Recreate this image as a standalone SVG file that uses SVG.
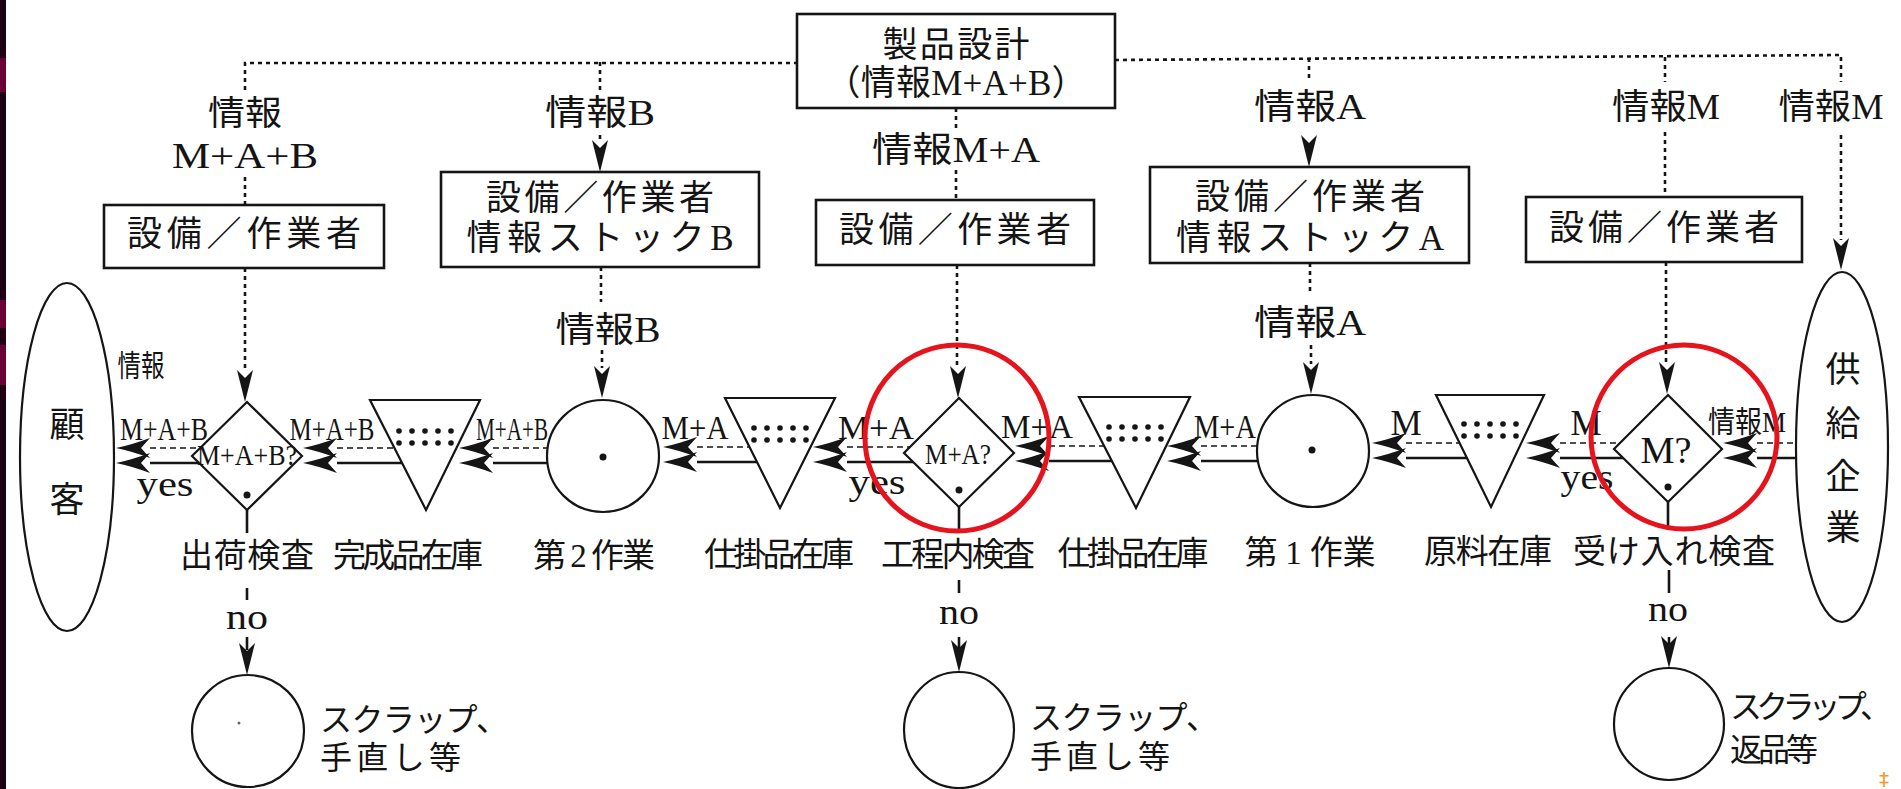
<svg xmlns="http://www.w3.org/2000/svg" xmlns:xlink="http://www.w3.org/1999/xlink" width="1901" height="789" viewBox="0 0 1901 789">
<style>
.t{font-family:"Liberation Serif","Noto Sans CJK JP",serif;fill:#141414;text-anchor:middle;dominant-baseline:central}
.ts{font-family:"Liberation Serif","Noto Sans CJK JP",serif;fill:#141414;dominant-baseline:central}
.box{fill:#fff;stroke:#151515;stroke-width:2.6}
.shp{fill:#fff;stroke:#151515;stroke-width:2.2}
.dl{stroke:#151515;stroke-width:2.6;stroke-dasharray:4 4;fill:none}
.da{stroke:#151515;stroke-width:1.6;stroke-dasharray:6 4;fill:none}
.so{stroke:#151515;stroke-width:2.6;fill:none}
.red{fill:none;stroke:#e5141c;stroke-width:5}
.ah{fill:#151515}
</style>
<defs>
<path id="ahl" class="ah" d="M0,0 Q15,-3 34,-10 L25,0 L34,10 Q15,3 0,0 Z"/>
<path id="ahd" class="ah" d="M0,0 L-8,-32 L0,-24 L8,-32 Z"/>
<g id="dots5">
<circle cx="0" cy="0" r="2.8"/><circle cx="13" cy="0" r="2.8"/><circle cx="26" cy="0" r="2.8"/><circle cx="39" cy="0" r="2.8"/><circle cx="52" cy="0" r="2.8"/>
<circle cx="0" cy="12" r="2.8"/><circle cx="13" cy="12" r="2.8"/><circle cx="26" cy="12" r="2.8"/><circle cx="39" cy="12" r="2.8"/><circle cx="52" cy="12" r="2.8"/>
</g>
</defs>
<rect x="0" y="0" width="1901" height="789" fill="#ffffff"/>
<g id="edge-strip">
<rect x="0" y="0" width="6" height="789" fill="#1e0010"/>
<rect x="0" y="58" width="6" height="34" fill="#6a0034"/>
<rect x="0" y="300" width="6" height="28" fill="#6a0034"/>
<rect x="0" y="345" width="6" height="40" fill="#6a0034"/>
</g>

<g id="connectors">
<path class="dl" d="M245,90 V63 H797"/>
<path class="dl" d="M1115,60 L1841,55 V82"/>
<path class="dl" d="M600,62 V90"/>
<path class="dl" d="M600,135 V142"/>
<path class="dl" d="M245,177 V205"/>
<path class="dl" d="M956,108 V128"/>
<path class="dl" d="M956,170 V200"/>
<path class="dl" d="M1309,58 V82"/>
<path class="dl" d="M1665,57 V82"/>
<path class="dl" d="M1665,132 V197"/>
<path class="dl" d="M1841,135 V240"/>
<use href="#ahd" x="600" y="172"/>
<use href="#ahd" x="1309" y="167"/>
<use href="#ahd" x="1841" y="270"/>
<path class="dl" d="M245,268 V372"/>
<use href="#ahd" x="245" y="402"/>
<path class="dl" d="M601,267 V302"/>
<path class="dl" d="M602,350 V368"/>
<use href="#ahd" x="602" y="398"/>
<path class="dl" d="M957,265 V368"/>
<use href="#ahd" x="958" y="398"/>
<path class="dl" d="M1310,263 V292"/>
<path class="dl" d="M1311,345 V364"/>
<use href="#ahd" x="1311" y="394"/>
<path class="dl" d="M1666,262 V364"/>
<use href="#ahd" x="1667" y="394"/>

<path class="da" d="M150,448 H200"/><path class="so" d="M150,463 H199"/>
<use href="#ahl" x="116" y="448"/><use href="#ahl" x="116" y="463"/>
<path class="da" d="M337,448 H394"/><path class="so" d="M337,463 H402"/>
<use href="#ahl" x="303" y="448"/><use href="#ahl" x="303" y="463"/>
<path class="da" d="M493,448 H548"/><path class="so" d="M493,463 H548"/>
<use href="#ahl" x="459" y="448"/><use href="#ahl" x="459" y="463"/>
<path class="da" d="M697,447 H750"/><path class="so" d="M697,462 H757"/>
<use href="#ahl" x="663" y="447"/><use href="#ahl" x="663" y="462"/>
<path class="da" d="M847,447 H910"/><path class="so" d="M847,462 H913"/>
<use href="#ahl" x="813" y="447"/><use href="#ahl" x="813" y="462"/>
<path class="da" d="M1049,446 H1104"/><path class="so" d="M1049,461 H1112"/>
<use href="#ahl" x="1015" y="446"/><use href="#ahl" x="1015" y="461"/>
<path class="da" d="M1201,446 H1258"/><path class="so" d="M1201,461 H1258"/>
<use href="#ahl" x="1167" y="446"/><use href="#ahl" x="1167" y="461"/>
<path class="da" d="M1406,443 H1460"/><path class="so" d="M1406,458 H1467"/>
<use href="#ahl" x="1372" y="443"/><use href="#ahl" x="1372" y="458"/>
<path class="da" d="M1560,443 H1620"/><path class="so" d="M1560,458 H1623"/>
<use href="#ahl" x="1526" y="443"/><use href="#ahl" x="1526" y="458"/>
<path class="da" d="M1757,443 H1797"/><path class="so" d="M1757,458 H1797"/>
<use href="#ahl" x="1723" y="443"/><use href="#ahl" x="1723" y="458"/>

<path class="so" d="M247,510 V533 M247,588 V600 M247,637 V650" stroke-width="2"/>
<use href="#ahd" x="247" y="675"/>
<path class="so" d="M959,507 V533 M959,580 V593 M959,637 V648" stroke-width="2"/>
<use href="#ahd" x="959" y="672"/>
<path class="so" d="M1668,502 V530 M1669,570 V593 M1669,637 V645" stroke-width="2"/>
<use href="#ahd" x="1669" y="668"/>

<text class="t" x="141" y="365" font-size="30" textLength="47" lengthAdjust="spacingAndGlyphs">情報</text>
<text class="t" x="164" y="429" font-size="32" textLength="88" lengthAdjust="spacingAndGlyphs">M+A+B</text>
<text class="t" x="332" y="429" font-size="32" textLength="85" lengthAdjust="spacingAndGlyphs">M+A+B</text>
<text class="t" x="512" y="429" font-size="32" textLength="72" lengthAdjust="spacingAndGlyphs">M+A+B</text>
<text class="t" x="695" y="428" font-size="33" textLength="67" lengthAdjust="spacingAndGlyphs">M+A</text>
<text class="t" x="876" y="428" font-size="33" textLength="76" lengthAdjust="spacingAndGlyphs">M+A</text>
<text class="t" x="1037" y="427" font-size="33" textLength="72" lengthAdjust="spacingAndGlyphs">M+A</text>
<text class="t" x="1225" y="427" font-size="33" textLength="62" lengthAdjust="spacingAndGlyphs">M+A</text>
<text class="t" x="1406" y="423" font-size="35">M</text>
<text class="t" x="1586" y="423" font-size="35">M</text>
<text class="t" x="1747" y="421" font-size="30" textLength="78" lengthAdjust="spacingAndGlyphs">情報M</text>
<text class="t" x="165" y="484" font-size="36" textLength="57" lengthAdjust="spacingAndGlyphs">yes</text>
<text class="t" x="877" y="482" font-size="36" textLength="57" lengthAdjust="spacingAndGlyphs">yes</text>
<text class="t" x="1587" y="477" font-size="36" textLength="53" lengthAdjust="spacingAndGlyphs">yes</text>
<text class="t" x="247" y="617" font-size="36" textLength="42" lengthAdjust="spacingAndGlyphs">no</text>
<text class="t" x="959" y="612" font-size="36" textLength="40" lengthAdjust="spacingAndGlyphs">no</text>
<text class="t" x="1668" y="609" font-size="36" textLength="40" lengthAdjust="spacingAndGlyphs">no</text>
<text class="t" x="245" y="113" font-size="34" textLength="74" lengthAdjust="spacingAndGlyphs">情報</text>
<text class="t" x="245" y="156" font-size="36" textLength="146" lengthAdjust="spacingAndGlyphs">M+A+B</text>
<text class="t" x="600" y="113" font-size="35" textLength="110" lengthAdjust="spacingAndGlyphs">情報B</text>
<text class="t" x="956" y="150" font-size="35" textLength="168" lengthAdjust="spacingAndGlyphs">情報M+A</text>
<text class="t" x="1310" y="107" font-size="35" textLength="112" lengthAdjust="spacingAndGlyphs">情報A</text>
<text class="t" x="1666" y="107" font-size="35" textLength="108" lengthAdjust="spacingAndGlyphs">情報M</text>
<text class="t" x="1831" y="107" font-size="35" textLength="105" lengthAdjust="spacingAndGlyphs">情報M</text>
<text class="t" x="608" y="330" font-size="35" textLength="105" lengthAdjust="spacingAndGlyphs">情報B</text>
<text class="t" x="1310" y="323" font-size="35" textLength="112" lengthAdjust="spacingAndGlyphs">情報A</text>
</g>

<g id="design">
<rect class="box" x="797" y="14" width="318" height="94"/>
<text class="t" x="956" y="45" font-size="35" textLength="147" lengthAdjust="spacing">製品設計</text>
<text class="t" x="956" y="83" font-size="35" textLength="261" lengthAdjust="spacing">（情報M+A+B）</text>
</g>
<g id="equip-ship">
<rect class="box" x="104" y="205" width="280" height="63"/>
<text class="t" x="244" y="234" font-size="35" textLength="234" lengthAdjust="spacing">設備／作業者</text>
</g>
<g id="equip-B">
<rect class="box" x="441" y="172" width="318" height="95"/>
<text class="t" x="600" y="198" font-size="35" textLength="228" lengthAdjust="spacing">設備／作業者</text>
<text class="t" x="600" y="238" font-size="35" textLength="267" lengthAdjust="spacing">情報ストックB</text>
</g>
<g id="equip-mid">
<rect class="box" x="816" y="200" width="278" height="65"/>
<text class="t" x="955" y="230" font-size="35" textLength="232" lengthAdjust="spacing">設備／作業者</text>
</g>
<g id="equip-A">
<rect class="box" x="1150" y="167" width="319" height="96"/>
<text class="t" x="1310" y="197" font-size="35" textLength="230" lengthAdjust="spacing">設備／作業者</text>
<text class="t" x="1310" y="238" font-size="35" textLength="268" lengthAdjust="spacing">情報ストックA</text>
</g>
<g id="equip-M">
<rect class="box" x="1526" y="197" width="276" height="65"/>
<text class="t" x="1664" y="228" font-size="35" textLength="230" lengthAdjust="spacing">設備／作業者</text>
</g>

<g id="customer">
<ellipse class="shp" cx="67" cy="457" rx="47" ry="174"/>
<text class="t" x="67" y="425" font-size="35">顧</text>
<text class="t" x="67" y="500" font-size="35">客</text>
</g>
<g id="shipping-inspection">
<polygon class="shp" points="247,402 302,456 247,510 192,456"/>
<text class="t" x="247" y="454" font-size="30" textLength="100" lengthAdjust="spacingAndGlyphs">M+A+B?</text>
<circle cx="247" cy="495" r="3.5" fill="#151515"/>
<text class="t" x="247" y="556" font-size="33" textLength="134" lengthAdjust="spacing">出荷検査</text>
</g>
<g id="finished-stock">
<polygon class="shp" points="370,400 480,400 426,510"/>
<use href="#dots5" x="399" y="431" fill="#151515"/>
<text class="t" x="408" y="556" font-size="33" textLength="150" lengthAdjust="spacing">完成品在庫</text>
</g>
<g id="op2">
<circle class="shp" cx="603" cy="456" r="56"/>
<circle cx="603" cy="457" r="3.5" fill="#151515"/>
<text class="t" x="594" y="556" font-size="33" textLength="122" lengthAdjust="spacing">第 2 作業</text>
</g>
<g id="wip-1">
<polygon class="shp" points="725,398 835,398 780,508"/>
<use href="#dots5" x="754" y="428" fill="#151515"/>
<text class="t" x="779" y="555" font-size="33" textLength="150" lengthAdjust="spacing">仕掛品在庫</text>
</g>
<g id="in-process-inspection">
<polygon class="shp" points="959,398 1014,453 959,507 904,453" fill="#f1f1f1"/>
<text class="t" x="958" y="453" font-size="30" textLength="66" lengthAdjust="spacingAndGlyphs">M+A?</text>
<circle cx="959" cy="490" r="3.5" fill="#151515"/>
<text class="t" x="958" y="555" font-size="33" textLength="154" lengthAdjust="spacing">工程内検査</text>
</g>
<g id="wip-2">
<polygon class="shp" points="1079,397 1190,397 1136,508"/>
<use href="#dots5" x="1109" y="427" fill="#151515"/>
<text class="t" x="1133" y="554" font-size="33" textLength="151" lengthAdjust="spacing">仕掛品在庫</text>
</g>
<g id="op1">
<circle class="shp" cx="1313" cy="451" r="56"/>
<circle cx="1312" cy="450" r="3.5" fill="#151515"/>
<text class="t" x="1310" y="553" font-size="33" textLength="131" lengthAdjust="spacing">第 1 作業</text>
</g>
<g id="raw-stock">
<polygon class="shp" points="1436,395 1544,395 1491,507"/>
<use href="#dots5" x="1464" y="424" fill="#151515"/>
<text class="t" x="1488" y="552" font-size="33" textLength="128" lengthAdjust="spacing">原料在庫</text>
</g>
<g id="receiving-inspection">
<polygon class="shp" points="1668,395 1722,449 1668,502 1614,449" fill="#dcdcdc"/>
<text class="t" x="1666" y="450" font-size="38" textLength="51" lengthAdjust="spacingAndGlyphs">M?</text>
<circle cx="1668" cy="487" r="3.5" fill="#151515"/>
<text class="t" x="1674" y="552" font-size="33" textLength="202" lengthAdjust="spacing">受け入れ検査</text>
</g>
<g id="supplier">
<ellipse class="shp" cx="1842" cy="447" rx="46" ry="175"/>
<text class="t" x="1843" y="370" font-size="35">供</text>
<text class="t" x="1843" y="424" font-size="35">給</text>
<text class="t" x="1843" y="477" font-size="35">企</text>
<text class="t" x="1843" y="528" font-size="35">業</text>
</g>
<g id="scrap-1">
<ellipse class="shp" cx="248" cy="731" rx="56" ry="56"/>
<circle cx="239" cy="723" r="1.5" fill="#666"/>
<text class="ts" x="320" y="720" font-size="32" textLength="188" lengthAdjust="spacing">スクラップ、</text>
<text class="ts" x="320" y="758" font-size="32" textLength="141" lengthAdjust="spacing">手直し等</text>
</g>
<g id="scrap-2">
<ellipse class="shp" cx="959" cy="730" rx="55" ry="58"/>
<text class="ts" x="1030" y="718" font-size="32" textLength="188" lengthAdjust="spacing">スクラップ、</text>
<text class="ts" x="1030" y="757" font-size="32" textLength="140" lengthAdjust="spacing">手直し等</text>
</g>
<g id="scrap-3">
<ellipse class="shp" cx="1669" cy="724" rx="55" ry="56"/>
<text class="ts" x="1730" y="707" font-size="32" textLength="162" lengthAdjust="spacing">スクラップ、</text>
<text class="ts" x="1730" y="750" font-size="32" textLength="88" lengthAdjust="spacing">返品等</text>
</g>
<g id="highlights">
<ellipse class="red" cx="957" cy="438" rx="92" ry="93"/>
<ellipse class="red" cx="1684" cy="437" rx="93" ry="92"/>
</g>
<text x="1884" y="779" font-family="DejaVu Sans, sans-serif" font-size="20" fill="#f39a2a" text-anchor="middle" dominant-baseline="central">‡</text>
</svg>
